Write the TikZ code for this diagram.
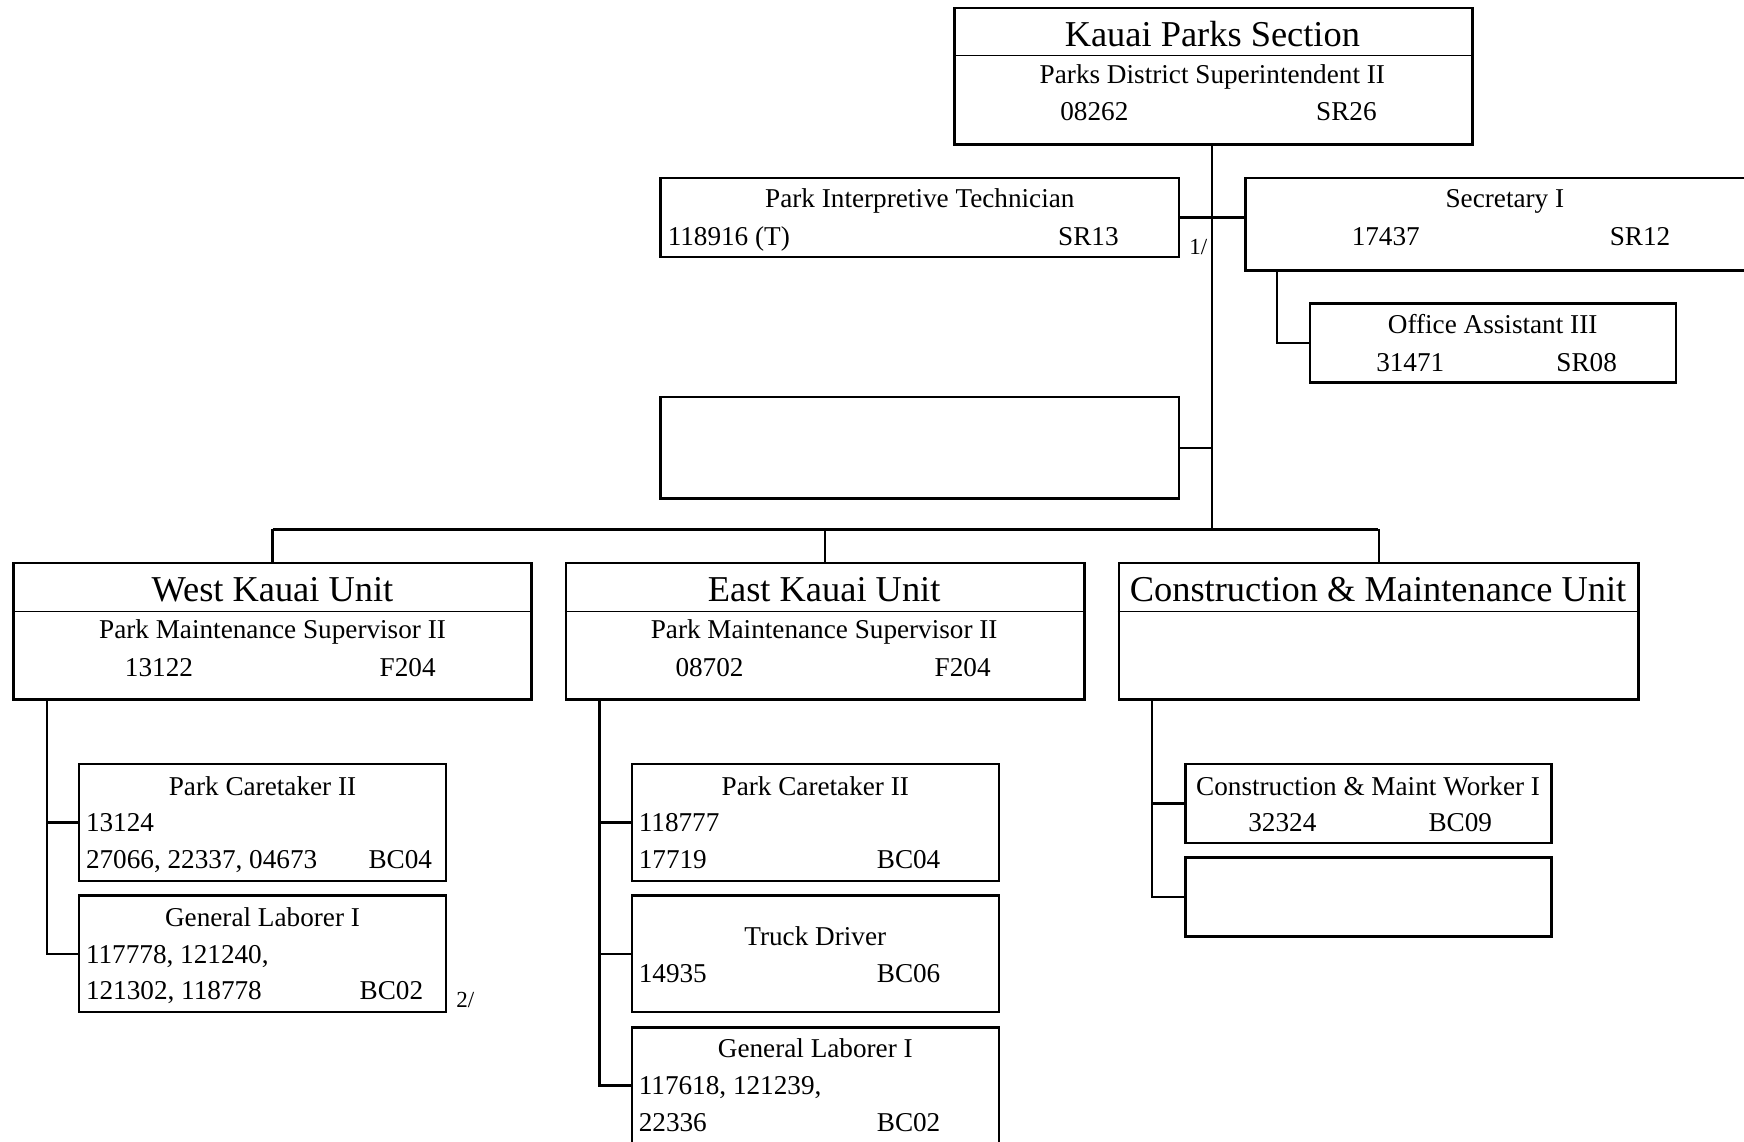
\documentclass[tikz,border=0pt]{standalone}
\usepackage{fontspec}
\setmainfont{Liberation Serif}
\usetikzlibrary{fit}
\tikzset{
  box/.style={draw, line width=1.25pt, inner sep=0pt},
  bar/.style={line width=0.5pt},
  link/.style={line width=1.1pt},
  ttl/.style={inner sep=0pt, anchor=base, font=\fontsize{18.2}{20}\selectfont},
  lbl/.style={inner sep=0pt, anchor=base, font=\fontsize{13.6}{16}\selectfont},
  lbw/.style={lbl, anchor=base west},
  note/.style={inner sep=0pt, anchor=base west, font=\fontsize{11.5}{13}\selectfont},
}
\begin{document}
\begin{tikzpicture}[x=0.5561pt, y=-0.5561pt]
\useasboundingbox (0,0) rectangle (1568,1026);

% ---------- boxes ----------
\node[box, fit={(858,7) (1324,130)}] (top) {};
\node[box, fit={(594,160) (1060,231)}] (pit) {};
\node[box, fit={(1120,160) (1600,243)}] (sec) {};
\node[box, fit={(1178,273) (1507,344)}] (oa) {};
\node[box, fit={(594,357) (1060,448)}] (emp) {};
\node[box, fit={(12,506) (478,629)}] (west) {};
\node[box, fit={(509,506) (975,629)}] (east) {};
\node[box, fit={(1006,506) (1473,629)}] (cm) {};
\node[box, fit={(71,687) (401,792)}] (wpc) {};
\node[box, fit={(71,805) (401,910)}] (wgl) {};
\node[box, fit={(568,687) (898,792)}] (epc) {};
\node[box, fit={(568,805) (898,910)}] (etd) {};
\node[box, fit={(568,924) (898,1028)}] (egl) {};
\node[box, fit={(1066,687) (1395,758)}] (cmw) {};
\node[box, fit={(1066,771) (1395,842)}] (cme) {};

% title dividers
\draw[bar] (top.west |- 0,50) -- (top.east |- 0,50);
\draw[bar] (west.west |- 0,550) -- (west.east |- 0,550);
\draw[bar] (east.west |- 0,550) -- (east.east |- 0,550);
\draw[bar] (cm.west |- 0,550) -- (cm.east |- 0,550);

% ---------- connectors ----------
\coordinate (busC) at (1090,476);
\coordinate (busL) at (245,476);
\coordinate (busR) at (1239,476);
\coordinate (secdrop) at (1148,243);
\coordinate (wdrop) at (42,629);
\coordinate (edrop) at (539,629);
\coordinate (cdrop) at (1036,629);

\draw[link] (top.south -| busC) -- (busC);
\draw[link] (busL) -- (busR);
\draw[link] (west.north) -- (west.north |- busL);
\draw[link] (east.north) -- (east.north |- busL);
\draw[link] (cm.north) -- (cm.north |- busR);
\draw[link] (pit.east) -- (pit.east -| sec.west);
\draw[link] (emp.east) -- (emp.east -| busC);
\draw[link] (secdrop) |- (oa.west);
\draw[link] (wdrop) |- (wgl.west);
\draw[link] (wpc.west) -- (wpc.west -| wdrop);
\draw[link] (edrop) |- (egl.west);
\draw[link] (epc.west) -- (epc.west -| edrop);
\draw[link] (etd.west) -- (etd.west -| edrop);
\draw[link] (cdrop) |- (cme.west);
\draw[link] (cmw.west) -- (cmw.west -| cdrop);

% ---------- texts ----------
\node[ttl] (top-t) at (1090,42) {Kauai Parks Section};
\node[lbl] (top-p) at (1090,75) {Parks District Superintendent II};
\node[lbw] (top-n) at (953,108) {08262};
\node[lbw] (top-g) at (1183,108) {SR26};

\node[lbl] (pit-p) at (827,187) {Park Interpretive Technician};
\node[lbw] (pit-n) at (600,221) {118916 (T)};
\node[lbw] (pit-g) at (951,221) {SR13};
\node[note] (fn1) at (1069,229) {1/};

\node[lbl] (sec-p) at (1353,187) {Secretary I};
\node[lbw] (sec-n) at (1215,221) {17437};
\node[lbw] (sec-g) at (1447,221) {SR12};

\node[lbl] (oa-p) at (1342,300) {Office Assistant III};
\node[lbw] (oa-n) at (1237,334) {31471};
\node[lbw] (oa-g) at (1399,334) {SR08};

\node[ttl] (west-t) at (245,541) {West Kauai Unit};
\node[lbl] (west-p) at (245,574) {Park Maintenance Supervisor II};
\node[lbw] (west-n) at (112,608) {13122};
\node[lbw] (west-g) at (341,608) {F204};

\node[ttl] (east-t) at (741,541) {East Kauai Unit};
\node[lbl] (east-p) at (741,574) {Park Maintenance Supervisor II};
\node[lbw] (east-n) at (607,608) {08702};
\node[lbw] (east-g) at (840,608) {F204};

\node[ttl] (cm-t) at (1239,541) {Construction \& Maintenance Unit};

\node[lbl] (wpc-p) at (236,715) {Park Caretaker II};
\node[lbw] (wpc-n) at (77,748) {13124};
\node[lbw] (wpc-m) at (77,781) {27066, 22337, 04673};
\node[lbw] (wpc-g) at (331,781) {BC04};

\node[lbl] (wgl-p) at (236,833) {General Laborer I};
\node[lbw] (wgl-n) at (77,866) {117778, 121240,};
\node[lbw] (wgl-m) at (77,899) {121302, 118778};
\node[lbw] (wgl-g) at (323,899) {BC02};
\node[note] (fn2) at (410,906) {2/};

\node[lbl] (epc-p) at (733,715) {Park Caretaker II};
\node[lbw] (epc-n) at (574,748) {118777};
\node[lbw] (epc-m) at (574,781) {17719};
\node[lbw] (epc-g) at (788,781) {BC04};

\node[lbl] (etd-p) at (733,850) {Truck Driver};
\node[lbw] (etd-n) at (574,883) {14935};
\node[lbw] (etd-g) at (788,883) {BC06};

\node[lbl] (egl-p) at (733,951) {General Laborer I};
\node[lbw] (egl-n) at (574,984) {117618, 121239,};
\node[lbw] (egl-m) at (574,1017) {22336};
\node[lbw] (egl-g) at (788,1017) {BC02};

\node[lbl] (cmw-p) at (1230,715) {Construction \& Maint Worker I};
\node[lbw] (cmw-n) at (1122,748) {32324};
\node[lbw] (cmw-g) at (1284,748) {BC09};
\end{tikzpicture}
\end{document}
